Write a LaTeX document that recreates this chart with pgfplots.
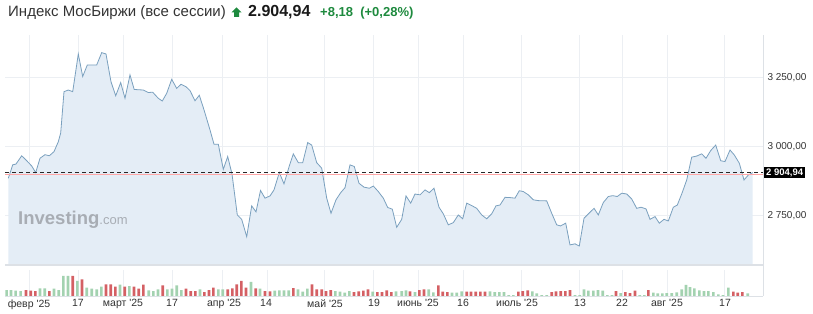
\documentclass[border=0pt]{standalone}
\usepackage{fontspec}
\setmainfont{Liberation Sans}
\usepackage{pgfplots}
\usepackage{pgfplotstable}
\pgfplotsset{compat=1.18}
\definecolor{lineblue}{RGB}{122,160,190}
\definecolor{fillblue}{RGB}{228,237,246}
\definecolor{gridc}{RGB}{236,239,243}
\definecolor{volg}{RGB}{163,210,176}
\definecolor{volr}{RGB}{212,96,100}
\definecolor{titleg}{RGB}{30,138,62}
\definecolor{txt}{RGB}{51,51,51}
\definecolor{wm}{RGB}{168,173,180}
\definecolor{framec}{RGB}{221,225,230}

\pgfplotstableread{
x y
8.3 2884
12.7 2933
16 2936
21.7 2966
26.7 2948
31.7 2929
35.7 2905
40 2957
45 2970
49.3 2966
54 2981
58.3 3017
60.7 3049
64 3199
68.3 3205
72.7 3199
78.3 3336
82.7 3254
87.3 3296
92.7 3296
96.7 3296
101.7 3341
106 3336
111 3235
115.7 3184
120.7 3232
125 3175
130 3260
134.2 3207
143.3 3205
148.3 3196
152.7 3197
158.3 3175
162.3 3165
166.7 3193
171.7 3244
176.7 3211
181 3226
186 3217
190 3203
195 3166
199.3 3186
204 3133
210 3060
214 3008
218.3 3008
223.3 2917
227.7 2963
232 2900
237.3 2751
241.7 2735
246.7 2672
251.7 2784
256 2762
260.5 2840
265 2812
270 2820
274 2842
279.3 2905
284 2864
289.3 2929
293.3 2973
298.3 2941
302.7 2941
307.7 3014
311.7 3005
316.7 2941
321.7 2921
326.7 2812
331 2757
336 2806
340.7 2832
345 2850
350 2933
354.3 2927
359 2866
364 2852
369.3 2848
373.3 2856
378.3 2836
383.3 2812
387.7 2778
392.3 2772
396.7 2706
401.7 2735
406 2820
410.7 2794
415 2827
420 2824
425 2842
429.3 2832
434 2848
439 2779
443.3 2755
448.3 2715
453.3 2723
458.3 2751
462.7 2737
466.7 2794
471.7 2785
476.7 2775
481.7 2751
486.7 2737
491.7 2755
496 2784
500 2787
505 2815
510 2814
515 2812
519.3 2839
523.3 2836
528.3 2824
533.3 2806
538.3 2803
546.7 2802
551.7 2757
556.7 2715
560.5 2711
565.7 2721
570 2642
575 2646
579.3 2638
584 2739
589 2757
594 2775
598.3 2751
603.3 2796
608.3 2818
612.7 2821
617.3 2818
621.7 2830
626.7 2827
631.7 2809
636.7 2775
641 2779
646 2773
650 2735
655 2745
659.3 2721
664 2735
668.3 2729
673.3 2779
677.3 2787
681.7 2827
686.7 2878
691.7 2961
696.7 2965
701.7 2973
706 2957
710.7 2985
715.7 3005
720.7 2948
725 2945
730 2987
734.3 2969
739.3 2939
744 2878
748.3 2896
752.7 2904.94
}\pricedata

\pgfplotstableread{
x v
6.7 6
11 6
15.7 5.3
20.7 5
40 7.7
44.7 7.7
54 7.3
58.7 6
63.3 20
68 20
77.3 15
86.7 8.3
91.7 7.3
96.7 6.7
101.3 9.3
120 11.3
129.3 10
148.7 5.7
153.3 5
158 6.7
167.3 6.7
172 7.3
176.7 10.7
181.3 6
200 6.7
218.3 6.7
222.7 6.7
251 14
260 7.3
274.7 5.3
279.3 5.7
284 5.7
288.7 5.7
298 6.7
302.7 4.3
307.3 7.3
335.3 5
340 4.3
344.7 3.3
349.3 5
372.7 4.3
396 4.7
401.7 5
406 5.7
415 4
428.7 6.7
433.3 3.7
452 3.3
456.7 3.3
461.7 4.7
490 4.7
494.7 4
499.3 4
504 4
508.7 1
513.3 1
532.3 4.7
536.7 2.7
541.7 1
546.7 1
575 1
579.7 1
584 6.7
588.3 5.3
593.3 5.3
598 6
602.7 5.3
607.3 1
612 1
620.7 3
639.7 1
644.3 1
653.3 3.3
657.7 2.7
662.3 2.7
666.7 3
671.7 3
676.7 3.7
681.7 6.7
686 11
690 9
694.3 7.7
699.3 5.7
704 5
708.3 5
713.3 4
718.3 1.7
723 1
728.3 8.3
747.7 2.7
}\volgreen

\pgfplotstableread{
x v
26 6
30.7 5.3
35.3 5
49.3 5
72.7 20
82 16.7
106 11.7
110.7 11.7
115.3 9.3
124.7 9.3
134 9.3
138.7 7.3
143.3 11.3
162.7 10.7
186 7.3
190.7 5
195.3 5
204.3 4
209 6
213.3 8.3
227.7 6.7
232.3 7.7
236.7 11.7
241.3 15
246 8.3
255.7 7.7
265 5
270 4.7
293.3 8
312 11.7
316.7 6.7
321.7 6.7
326 5
330.7 6
354 4
358.7 4.7
363.3 5.3
368 6.7
377.3 4
382 4
386.7 5.7
391.3 4
410 4.7
419.3 6
424 6.7
438.3 10.7
442.7 4.3
447.3 4
466.7 4.3
471 4.3
475.7 4.3
480.3 4.3
485 4.3
518.3 4.3
522.7 5
527.7 5.7
551.7 4
556 4.7
560.7 5
565.3 5
570 6
616 5
625.3 4
630 3
635 5.3
648.3 6
733.3 4.3
737.7 3.3
742.3 4
}\volred

\begin{document}
\begin{tikzpicture}
\path[use as bounding box] (0pt,0pt) rectangle (813pt,313pt);

% title
\node[anchor=base west, inner sep=0pt, text=txt, font=\fontsize{15}{17}\selectfont] at (8pt,296pt) {Индекс МосБиржи (все сессии)};
\fill[titleg] (236.5pt,305.5pt) -- (241.5pt,300.5pt) -- (239pt,300.5pt) -- (239pt,296pt) -- (234pt,296pt) -- (234pt,300.5pt) -- (231.5pt,300.5pt) -- cycle;
\node[anchor=base west, inner sep=0pt, text=black!90, font=\fontsize{16}{18}\selectfont\bfseries] at (248pt,296pt) {2.904,94};
\node[anchor=base west, inner sep=0pt, text=titleg, font=\fontsize{13}{15}\selectfont\bfseries] at (320pt,296pt) {+8,18 \ (+0,28\%)};

% price pane
\begin{axis}[
  at={(5pt,48pt)}, anchor=south west,
  width=758pt, height=230pt, scale only axis,
  xmin=5, xmax=763, ymin=2569, ymax=3405,
  clip mode=individual,
  axis line style={draw=none},
  tick style={draw=none},
  xtick={29,78,123,172,222,267,324,373,418,463,521,579,622,667,724},
  xticklabels={},
  ytick={2750,3000,3250},
  yticklabels={{2 750,00},{3 000,00},{3 250,00}},
  yticklabel pos=right,
  yticklabel style={font=\fontsize{10}{12}\selectfont, text=txt, anchor=west, xshift=1pt},
  xmajorgrids, ymajorgrids,
  major grid style={gridc, line width=0.6pt},
]
\addplot[fill=fillblue, draw=none] table[x=x,y=y] {\pricedata} \closedcycle;
\addplot[lineblue, line width=0.8pt, mark=none] table[x=x,y=y] {\pricedata};
\draw[red!35, line width=0.6pt] (axis cs:5,2897) -- (axis cs:763,2897);
\draw[black!85, line width=0.7pt, dash pattern=on 4pt off 3pt] (axis cs:5,2904.94) -- (axis cs:763,2904.94);
\node[anchor=base west, inner sep=0pt, text=wm, font=\fontsize{18.5}{20}\selectfont\bfseries] at (axis cs:18,2718) {Investing\fontsize{13}{15}\selectfont\mdseries.com};
\draw[framec, line width=1.4pt] (rel axis cs:0,0) -- (rel axis cs:1,0);
\node[anchor=west, fill=black, text=white, inner xsep=2pt, inner ysep=1pt, minimum height=10.5pt, font=\fontsize{9.5}{10}\selectfont\bfseries] at (axis cs:764,2904.94) {2 904,94};
\end{axis}

% volume pane
\begin{axis}[
  at={(5pt,17pt)}, anchor=south west,
  width=758pt, height=26pt, scale only axis,
  xmin=5, xmax=763, ymin=0, ymax=26,
  axis line style={draw=none},
  tick style={draw=none},
  xtick={29,78,123,172,224,266,325,374,418,463,517,580,622,667,725},
  xticklabels={февр \textquotesingle25,17,март \textquotesingle25,17,апр \textquotesingle25,14,май \textquotesingle25,19,июнь \textquotesingle25,16,июль \textquotesingle25,13,22,авг \textquotesingle25,17},
  xticklabel style={font=\fontsize{10.5}{12}\selectfont, text=txt},
  ytick=\empty,
  extra x ticks={29,78,123,172,222,267,324,373,418,463,521,579,622,667,724},
  extra x tick labels={},
  extra x tick style={grid=major, major grid style={gridc, line width=0.6pt}},
]
\addplot[ybar, bar width=2.6pt, bar shift=0pt, fill=volg, draw=none] table[x=x,y=v] {\volgreen};
\addplot[ybar, bar width=2.6pt, bar shift=0pt, fill=volr, draw=none] table[x=x,y=v] {\volred};
\draw[framec, line width=0.6pt] (rel axis cs:0,0) -- (rel axis cs:1,0);
\end{axis}

\draw[framec, line width=0.6pt] (763pt,278pt) -- (763pt,17pt);
\end{tikzpicture}
\end{document}
